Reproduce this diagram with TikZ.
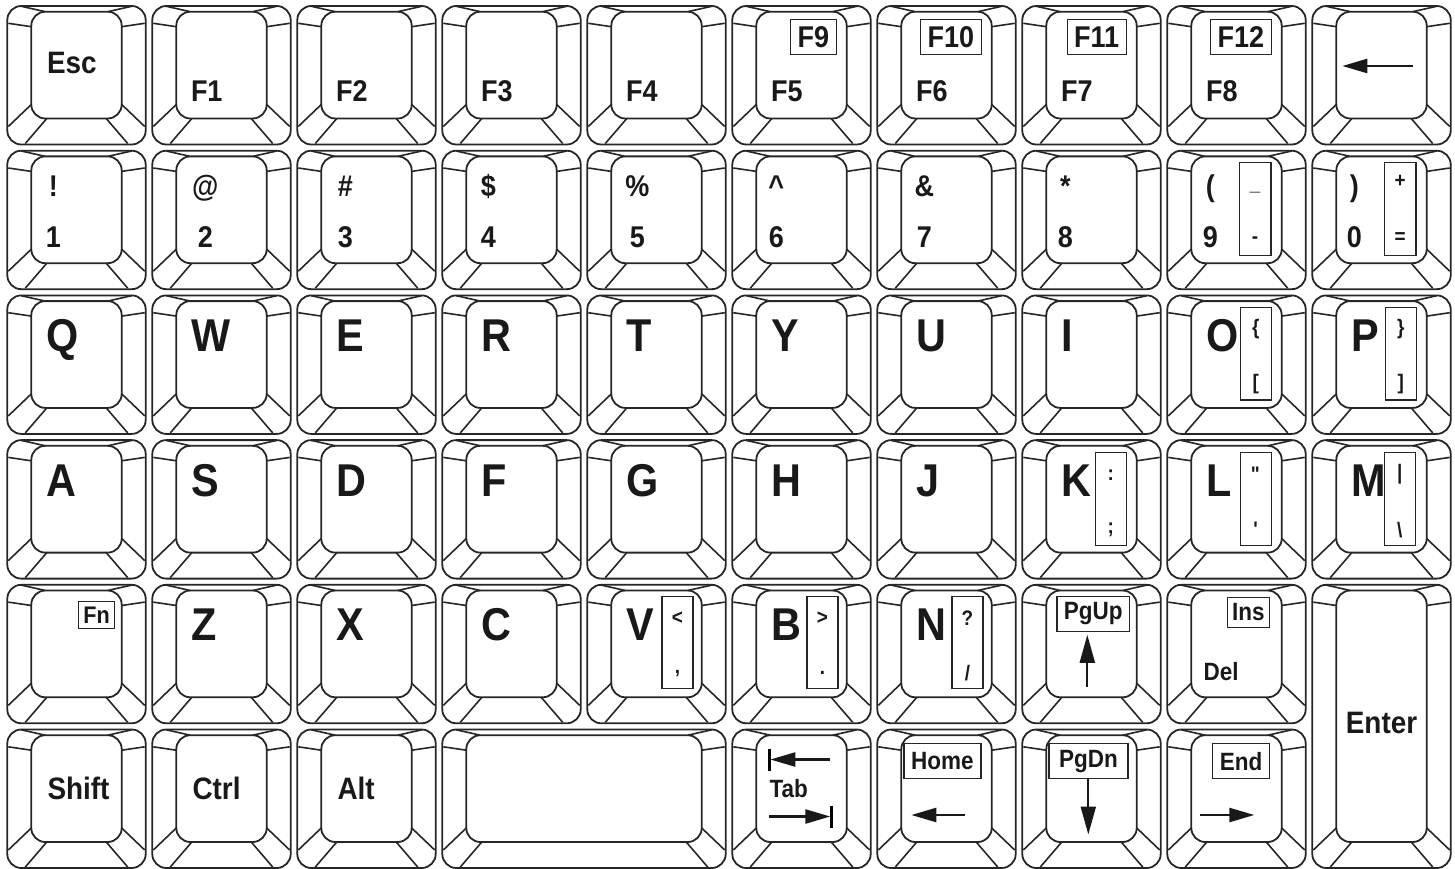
\documentclass[tikz,border=0pt]{standalone}
\usepackage{fontspec}
\usetikzlibrary{arrows.meta}
\newfontfamily\kf[FakeStretch=0.9]{Liberation Sans}
\tikzset{
  x=1pt,y=-1pt,
  kat/.style 2 args={shift={({7.3+145*(#1-1)},{6+144.7*(#2-1)})}},
  keyline/.style={line width=1.8pt, draw=black!85},
  bevel/.style={line width=1.6pt, draw=black!85},
  lbl/.style={inner sep=0pt, anchor=base west, text=black!90},
  big/.style={lbl, font=\kf\bfseries\fontsize{46}{46}\selectfont},
  mid/.style={lbl, font=\kf\bfseries\fontsize{31}{31}\selectfont},
  fk/.style={lbl, font=\kf\bfseries\fontsize{30}{30}\selectfont},
  sm/.style={lbl, font=\kf\bfseries\fontsize{25}{25}\selectfont},
  tn/.style={inner sep=0pt, anchor=center, text=black!90, font=\kf\bfseries\fontsize{21}{21}\selectfont},
  lbox/.style={draw=black!85, line width=1.2pt},
  fbox/.style={lbox, inner xsep=7pt, inner ysep=0pt, minimum height=35pt, anchor=north east},
  arr/.style={line width=2.4pt, draw=black!90, -{Triangle[length=25pt,width=14pt]}},
  varr/.style={line width=2.2pt, draw=black!90, -{Triangle[length=28pt,width=15pt]}},
}
\newcommand\keycap[2]{%
  \draw[keyline, rounded corners=14pt] (0,0) rectangle (#1,#2);
  \draw[keyline, rounded corners=14pt] (24,5.7) rectangle ({#1-24},{#2-26});
  \draw[bevel] (1,17.3) -- (24,20.7);
  \draw[bevel] ({#1-1},17.3) -- ({#1-24},20.7);
  \draw[bevel] (14,0.3) -- (38,5.7);
  \draw[bevel] ({#1-14},0.3) -- ({#1-38},5.7);
  \draw[bevel] (1,{#2-18}) -- (24,{#2-40});
  \draw[bevel] (18,{#2-1}) -- (39.5,{#2-26});
  \draw[bevel] ({#1-1},{#2-18}) -- ({#1-24},{#2-40});
  \draw[bevel] ({#1-18},{#2-1}) -- ({#1-39.5},{#2-26});
}
\newcommand\stdkey[3]{\begin{scope}[kat={#1}{#2}]\keycap{138.4}{138.5}#3\end{scope}}
\newcommand\dig[5]{\stdkey{#1}{2}{%
  \node[fk,anchor=base] (s#1) at (#2,46) {#3};
  \node[fk,anchor=base] (d#1) at (#2,96.5) {#4};#5}}
\newcommand\letter[4]{\stdkey{#1}{#2}{\node[big] (l#1#2) at (38.5,56) {#3};#4}}
\newcommand\sidebox[5]{% x0,y0 top char, bottom char, name
  \draw[lbox] (#1,#2) rectangle ({#1+31},{#2+92.5});
  \node[tn] (#5a) at ({#1+15.5},{#2+22}) {#3};
  \node[tn] (#5b) at ({#1+15.5},{#2+77}) {#4};}
\begin{document}
\begin{tikzpicture}
\useasboundingbox (0,0) rectangle (1455,869);
% ---------- row 1
\stdkey{1}{1}{\node[mid] (kEsc) at (39.5,68) {Esc};}
\stdkey{2}{1}{\node[fk] (kF1) at (38.5,95.7) {F1};}
\stdkey{3}{1}{\node[fk] (kF2) at (38.5,95.7) {F2};}
\stdkey{4}{1}{\node[fk] (kF3) at (38.5,95.7) {F3};}
\stdkey{5}{1}{\node[fk] (kF4) at (38.5,95.7) {F4};}
\stdkey{6}{1}{\node[fk] (kF5) at (38.5,95.7) {F5};\node[fk,fbox] (kF9) at (104.5,13) {F9};}
\stdkey{7}{1}{\node[fk] (kF6) at (38.5,95.7) {F6};\node[fk,fbox] (kF10) at (104.5,13) {F10};}
\stdkey{8}{1}{\node[fk] (kF7) at (38.5,95.7) {F7};\node[fk,fbox] (kF11) at (104.5,13) {F11};}
\stdkey{9}{1}{\node[fk] (kF8) at (38.5,95.7) {F8};\node[fk,fbox] (kF12) at (104.5,13) {F12};}
\stdkey{10}{1}{\coordinate (bsA) at (101,60);\coordinate (bsB) at (30,60);\draw[arr] (bsA) -- (bsB);}
% ---------- row 2
\dig{1}{46}{!}{1}{}
\dig{2}{53}{@}{2}{}
\dig{3}{48}{\#}{3}{}
\dig{4}{46}{\$}{4}{}
\dig{5}{50}{\%}{5}{}
\dig{6}{44}{\textasciicircum}{6}{}
\dig{7}{47}{\&}{7}{}
\dig{8}{43}{*}{8}{}
\dig{9}{43}{(}{9}{\draw[lbox] (72,12) rectangle (103.7,105);
  \node[tn] (k9a) at (87.8,41) {\_}; \node[tn] (k9b) at (87.8,89) {-};}
\dig{10}{42}{)}{0}{\draw[lbox] (72,12) rectangle (103.7,105);
  \node[tn] (k0a) at (87.8,31) {+}; \node[tn] (k0b) at (87.8,87) {=};}
% ---------- row 3
\letter{1}{3}{Q}{}
\letter{2}{3}{W}{}
\letter{3}{3}{E}{}
\letter{4}{3}{R}{}
\letter{5}{3}{T}{}
\letter{6}{3}{Y}{}
\letter{7}{3}{U}{}
\letter{8}{3}{I}{}
\letter{9}{3}{O}{\sidebox{73}{12}{\{}{[}{kO}}
\letter{10}{3}{P}{\sidebox{73}{12}{\}}{]}{kP}}
% ---------- row 4
\letter{1}{4}{A}{}
\letter{2}{4}{S}{}
\letter{3}{4}{D}{}
\letter{4}{4}{F}{}
\letter{5}{4}{G}{}
\letter{6}{4}{H}{}
\letter{7}{4}{J}{}
\letter{8}{4}{K}{\sidebox{73}{12.6}{:}{;}{kK}}
\letter{9}{4}{L}{\sidebox{73}{12.6}{\textquotedbl}{\textquotesingle}{kL}}
\letter{10}{4}{M}{\sidebox{72}{12.6}{|}{\textbackslash}{kM}}
% ---------- row 5
\stdkey{1}{5}{\node[fk,fbox,font=\kf\bfseries\fontsize{24}{24}\selectfont,minimum height=27pt,inner xsep=5pt] (kFn) at (108,16) {Fn};}
\letter{2}{5}{Z}{}
\letter{3}{5}{X}{}
\letter{4}{5}{C}{}
\letter{5}{5}{V}{\sidebox{74.7}{11.5}{<}{,}{kV}}
\letter{6}{5}{B}{\sidebox{74.7}{11.5}{>}{.}{kB}}
\letter{7}{5}{N}{\sidebox{74.7}{11.5}{?}{/}{kN}}
\stdkey{8}{5}{\node[sm,fbox,anchor=north west,minimum width=69pt,minimum height=35pt] (kPgUp) at (34,10.7) {PgUp};
  \coordinate (upA) at (65,102);\coordinate (upB) at (65,50);\draw[varr] (upA) -- (upB);}
\stdkey{9}{5}{\node[sm,fbox,minimum height=30pt,inner xsep=5pt] (kIns) at (103,12) {Ins};
  \node[sm] (kDel) at (36,96) {Del};}
\begin{scope}[kat={10}{5}]\keycap{138.4}{283.2}
  \node[mid,anchor=center] (kEnter) at (69.2,138) {Enter};\end{scope}
% ---------- row 6
\stdkey{1}{6}{\node[mid] (kShift) at (40,70) {Shift};}
\stdkey{2}{6}{\node[mid] (kCtrl) at (40,70) {Ctrl};}
\stdkey{3}{6}{\node[mid] (kAlt) at (40,70) {Alt};}
\begin{scope}[kat={4}{6}]\keycap{283.4}{138.5}\end{scope}
\stdkey{6}{6}{%
  \coordinate (tA) at (98,30);\coordinate (tB) at (38,30);\draw[arr] (tA) -- (tB);
  \draw[line width=2.6pt] (37,19) -- (37,41);
  \node[sm] (kTab) at (37,68) {Tab};
  \coordinate (tC) at (37,87);\coordinate (tD) at (98,87);\draw[arr] (tC) -- (tD);
  \draw[line width=2.6pt] (99,76) -- (99,98);}
\stdkey{7}{6}{\node[sm,fbox,anchor=north west,minimum width=77pt] (kHome) at (26,13.5) {Home};
  \coordinate (hA) at (88,85.5);\coordinate (hB) at (34,85.5);\draw[arr] (hA) -- (hB);}
\stdkey{8}{6}{\node[sm,fbox,anchor=north west,minimum width=79pt] (kPgDn) at (26,13.5) {PgDn};
  \coordinate (dA) at (66,49);\coordinate (dB) at (66,105);\draw[varr] (dA) -- (dB);}
\stdkey{9}{6}{\node[sm,fbox,minimum width=57pt] (kEnd) at (103,13.5) {End};
  \coordinate (eA) at (33,85.5);\coordinate (eB) at (87,85.5);\draw[arr] (eA) -- (eB);}
\end{tikzpicture}
\end{document}
